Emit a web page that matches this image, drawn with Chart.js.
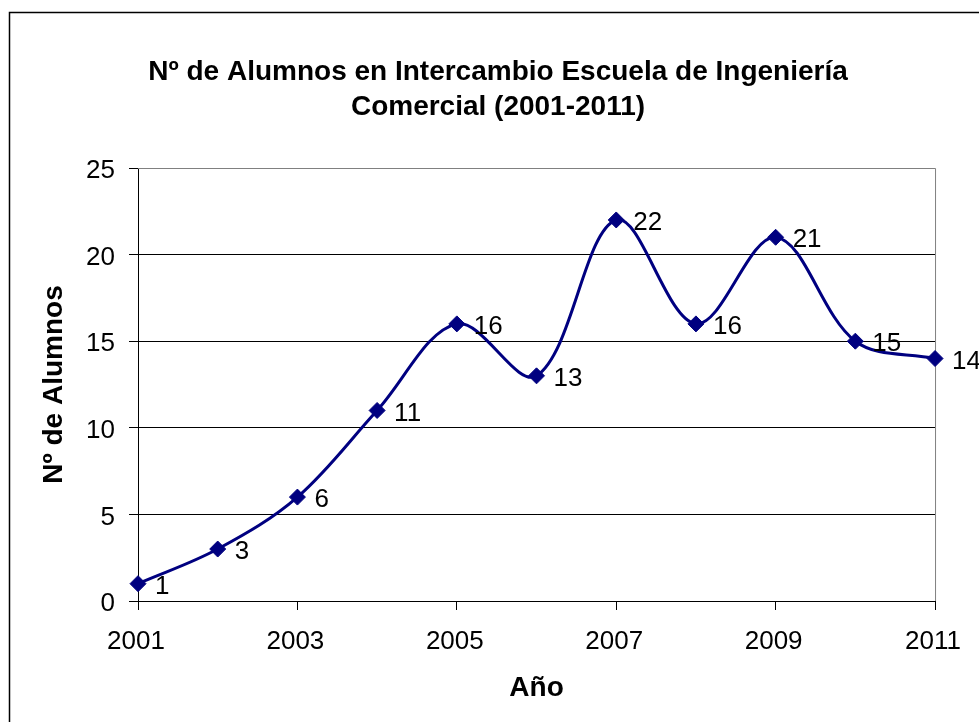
<!DOCTYPE html>
<html>
<head>
<meta charset="utf-8">
<script src="https://cdn.jsdelivr.net/npm/chart.js@4/dist/chart.umd.min.js"></script>
<style>
  html, body { margin: 0; padding: 0; background: #fff; }
  canvas { display: block; }
</style>
</head>
<body>
<canvas id="chart" width="979" height="722"></canvas>
<script>
const years = [2001, 2002, 2003, 2004, 2005, 2006, 2007, 2008, 2009, 2010, 2011];
const alumnos = [1, 3, 6, 11, 16, 13, 22, 16, 21, 15, 14];

const titleLines = ["Nº de Alumnos en Intercambio Escuela de Ingeniería", "Comercial (2001-2011)"];
const xTitle = "Año";
const yTitle = "Nº de Alumnos";

const FONT = "Arial, 'Liberation Sans', sans-serif";

// frame, plot border and point labels (Excel look)
const excelBits = {
    id: 'excelBits',
    beforeDraw(chart) {
        const ctx = chart.ctx;
        ctx.save();
        ctx.strokeStyle = '#000';
        ctx.lineWidth = 1.5;
        ctx.strokeRect(9.5, 12.5, 1200, 1200);
        ctx.restore();
    },
    beforeDatasetsDraw(chart) {
        const {ctx, chartArea} = chart;
        ctx.save();
        ctx.strokeStyle = '#808080';
        ctx.lineWidth = 1;
        ctx.beginPath();
        ctx.moveTo(chartArea.left, chartArea.top + 0.5);
        ctx.lineTo(chartArea.right + 0.5, chartArea.top + 0.5);
        ctx.lineTo(chartArea.right + 0.5, chartArea.bottom);
        ctx.stroke();
        ctx.restore();
    },
    afterDatasetsDraw(chart) {
        const ctx = chart.ctx;
        const meta = chart.getDatasetMeta(0);
        ctx.save();
        ctx.font = '26px ' + FONT;
        ctx.fillStyle = '#000';
        ctx.textAlign = 'left';
        ctx.textBaseline = 'middle';
        meta.data.forEach((pt, i) => {
            ctx.fillText(String(alumnos[i]), pt.x + 17, pt.y + 3);
        });
        ctx.restore();
    }
};

new Chart(document.getElementById('chart'), {
    type: 'line',
    data: {
        datasets: [{
            label: yTitle,
            data: years.map((y, i) => ({x: y, y: alumnos[i]})),
            borderColor: '#000080',
            backgroundColor: '#000080',
            borderWidth: 3,
            tension: 0.35,
            pointStyle: 'rectRot',
            pointRadius: 8,
            pointBorderWidth: 1,
            pointBackgroundColor: '#000080',
            pointBorderColor: '#000080',
            clip: false
        }]
    },
    options: {
        responsive: false,
        animation: false,
        layout: {
            padding: {left: 17, right: 0, top: 0, bottom: 0}
        },
        plugins: {
            legend: {display: false},
            tooltip: {enabled: false},
            title: {
                display: true,
                text: titleLines,
                color: '#000',
                font: {family: FONT, size: 28, weight: 'bold', lineHeight: 1.25},
                padding: {top: 55, bottom: 43}
            }
        },
        scales: {
            x: {
                type: 'linear',
                min: 2001,
                max: 2011,
                afterFit: (s) => { s.height = 121; },
                ticks: {
                    stepSize: 2,
                    color: '#000',
                    font: {family: FONT, size: 26},
                    padding: 16,
                    labelOffset: -2,
                    maxRotation: 0,
                    callback: (v) => String(v)
                },
                grid: {
                    drawOnChartArea: false,
                    drawTicks: true,
                    tickLength: 9,
                    color: '#000',
                    tickColor: '#000'
                },
                border: {color: '#000', width: 1},
                title: {
                    display: true,
                    text: xTitle,
                    color: '#000',
                    font: {family: FONT, size: 28, weight: 'bold', lineHeight: 1.2},
                    padding: {top: 0, bottom: 17}
                }
            },
            y: {
                min: 0,
                max: 25,
                afterFit: (s) => { s.width = 121; },
                ticks: {
                    stepSize: 5,
                    color: '#000',
                    font: {family: FONT, size: 26},
                    padding: 14,
                    labelOffset: 3
                },
                grid: {
                    color: (c) => (c.tick && c.tick.value === 25 ? '#808080' : '#000'),
                    tickColor: '#000',
                    tickLength: 9,
                    lineWidth: 1
                },
                border: {color: '#000', width: 1},
                title: {
                    display: true,
                    text: yTitle,
                    color: '#000',
                    font: {family: FONT, size: 28, weight: 'bold', lineHeight: 1.2},
                    padding: {top: 20, bottom: 0}
                }
            },
            // empty right-hand space so the plot ends where Excel's does
            yRight: {
                position: 'right',
                display: true,
                afterFit: (s) => { s.width = 41; },
                ticks: {display: false},
                grid: {display: false},
                border: {display: false}
            }
        }
    },
    plugins: [excelBits]
});
</script>
</body>
</html>
